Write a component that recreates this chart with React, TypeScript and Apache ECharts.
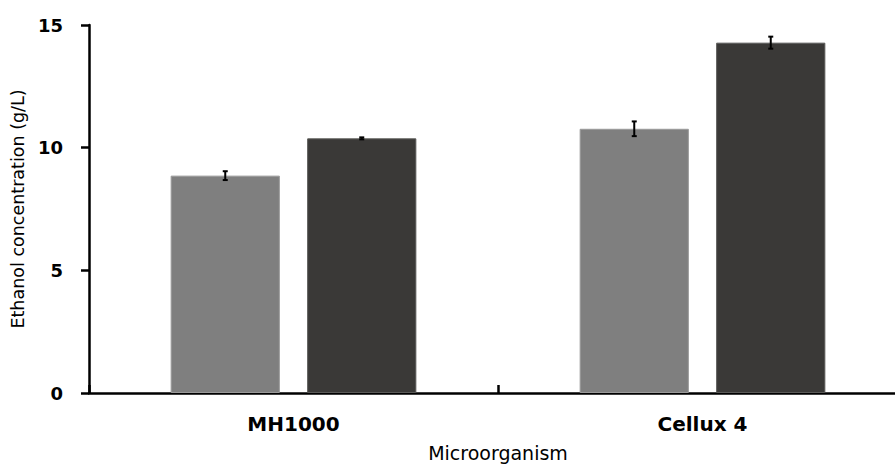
import React, { useEffect, useRef } from "react";
import * as echarts from "echarts";

// Ethanol concentration by microorganism, two treatments each, with error bars
const categories = ["MH1000", "Cellux 4"];
const seriesLight = [8.86, 10.77];
const errorLight = [0.18, 0.3];
const seriesDark = [10.38, 14.28];
const errorDark = [0.04, 0.245];
const yTicks = { min: 0, max: 15, interval: 5 };

const BAR_WIDTH = 0.267; // fraction of the category band
const BAR_GAP = 0.25; // fraction of the bar width

const FONT = "DejaVu Sans";

function errorSeries(values: number[], errors: number[], side: number) {
  const data = values.map((v, i) => [i, v, errors[i]]);
  return {
    type: "custom",
    z: 5,
    data,
    encode: { x: 0, y: 1 },
    renderItem: (params: any, api: any) => {
      const idx = api.value(0);
      const val = api.value(1);
      const err = api.value(2);
      const band = api.size([1, 0])[0];
      const offset = (side * band * BAR_WIDTH * (1 + BAR_GAP)) / 2;
      const top = api.coord([idx, val + err]);
      const bottom = api.coord([idx, val - err]);
      const x = top[0] + offset;
      const cap = 2.5;
      const style = { stroke: "#000", lineWidth: 2 };
      return {
        type: "group",
        children: [
          { type: "line", shape: { x1: x, y1: top[1], x2: x, y2: bottom[1] }, style },
          { type: "line", shape: { x1: x - cap, y1: top[1], x2: x + cap, y2: top[1] }, style },
          { type: "line", shape: { x1: x - cap, y1: bottom[1], x2: x + cap, y2: bottom[1] }, style },
        ],
      };
    },
  };
}

export default function App() {
  const ref = useRef<HTMLDivElement>(null);

  useEffect(() => {
    if (!ref.current) return;
    const chart = echarts.init(ref.current, null, { renderer: "svg" });
    chart.setOption({
      animation: false,
      backgroundColor: "#ffffff",
      grid: {
        left: 89,
        top: 25,
        width: 818,
        height: 368,
        containLabel: false,
        outerBoundsMode: "none",
      },
      xAxis: {
        type: "category",
        data: categories,
        boundaryGap: true,
        name: "Microorganism",
        nameLocation: "middle",
        nameGap: 50,
        nameTextStyle: { fontFamily: FONT, fontSize: 19, color: "#000" },
        axisLine: { show: true, lineStyle: { color: "#000", width: 2.5 } },
        axisTick: { show: true, inside: true, length: 8, lineStyle: { color: "#000", width: 2.5 } },
        axisLabel: {
          fontFamily: FONT,
          fontSize: 20,
          fontWeight: "bold",
          color: "#000",
          margin: 21,
        },
        splitLine: { show: false },
      },
      yAxis: {
        type: "value",
        min: yTicks.min,
        max: yTicks.max,
        interval: yTicks.interval,
        name: "Ethanol concentration (g/L)",
        nameLocation: "middle",
        nameGap: 58,
        nameTextStyle: { fontFamily: FONT, fontSize: 17.5, color: "#000" },
        axisLine: { show: true, lineStyle: { color: "#000", width: 2.5 } },
        axisTick: { show: true, inside: false, length: 8, lineStyle: { color: "#000", width: 2.5 } },
        axisLabel: {
          fontFamily: FONT,
          fontSize: 18,
          fontWeight: "bold",
          color: "#000",
          margin: 26,
        },
        splitLine: { show: false },
      },
      series: [
        {
          type: "bar",
          data: seriesLight,
          barWidth: `${BAR_WIDTH * 100}%`,
          barGap: `${BAR_GAP * 100}%`,
          itemStyle: { color: "#7f7f7f", borderColor: "#9a9a9a", borderWidth: 1 },
        },
        {
          type: "bar",
          data: seriesDark,
          barWidth: `${BAR_WIDTH * 100}%`,
          barGap: `${BAR_GAP * 100}%`,
          itemStyle: { color: "#3a3937", borderColor: "#5a5a58", borderWidth: 1 },
        },
        errorSeries(seriesLight, errorLight, -1),
        errorSeries(seriesDark, errorDark, 1),
      ],
    });
    return () => chart.dispose();
  }, []);

  return (
    <div
      ref={ref}
      style={{ position: "absolute", left: 0, top: 0, width: 895, height: 464 }}
    />
  );
}
